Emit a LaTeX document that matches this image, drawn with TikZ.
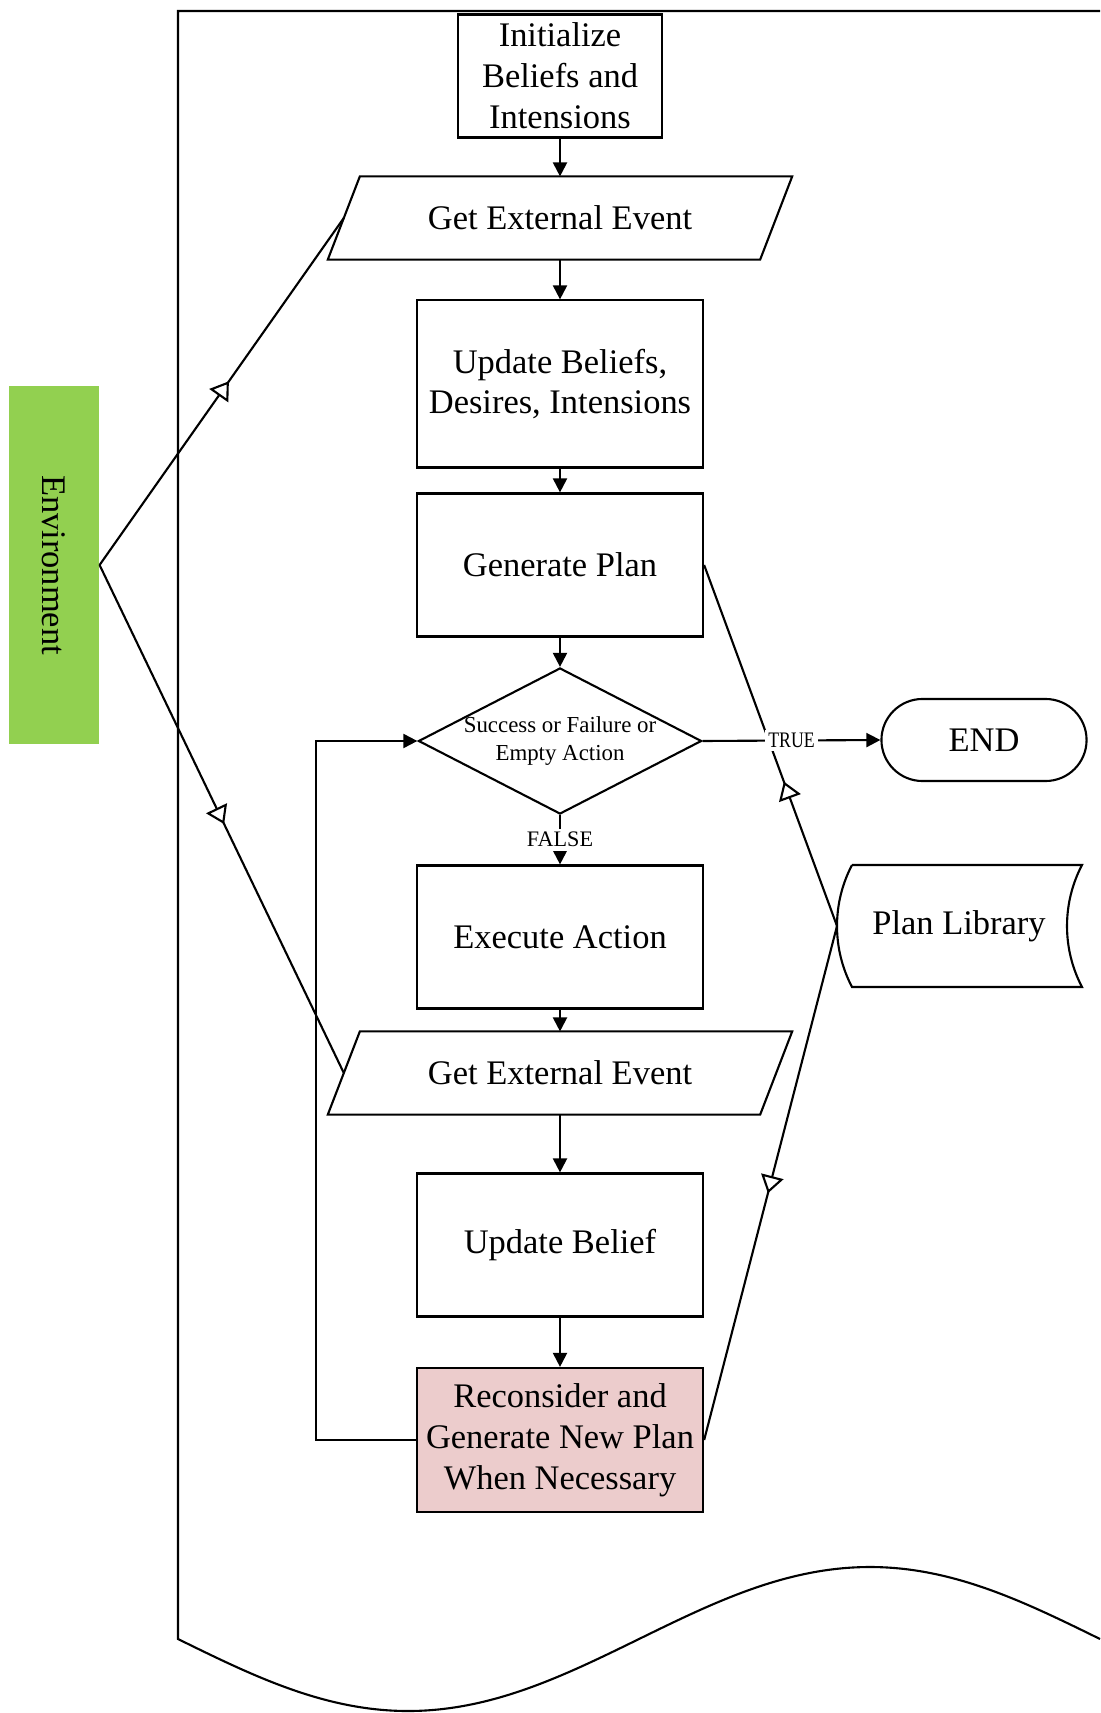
\documentclass[tikz,border=0pt]{standalone}
\usepackage{fontspec}
\setmainfont{Liberation Serif}
\usetikzlibrary{shapes.geometric,arrows.meta,decorations.markings}
\definecolor{envgreen}{RGB}{146,208,80}
\definecolor{recpink}{RGB}{236,204,204}
\begin{document}
\begin{tikzpicture}[x=0.01cm, y=-0.01cm, line width=0.6pt,
		font=\fontsize{9.8}{11.6}\selectfont,
		proc/.style={rectangle, draw, align=center, minimum width=2.86cm, inner sep=2pt},
		io/.style={rectangle, minimum width=4.30cm, minimum height=0.81cm, inner sep=1pt},
		decide/.style={diamond, draw, minimum width=2.83cm, minimum height=1.46cm, inner sep=0pt},
		arr/.style={-{Triangle[length=4pt,width=4pt]}},
		lbl/.style={fill=white, inner sep=1pt, font=\fontsize{6.3}{7}\selectfont},
		feed/.style={postaction={decorate}, decoration={markings,
				mark=at position #1 with {\arrow{Triangle[fill=white,length=5pt,width=6.5pt]}}}}]
		\useasboundingbox (0,0) rectangle (1100,1713);
		% outer document frame
		\draw (1100,11) -- (178,11) -- (178,1639) sin (408,1711) cos (639,1639) sin (870,1567) cos (1100,1639);
		
		% main column
		\node[proc, minimum width=2.04cm, minimum height=1.23cm] (init) at (560,76) {Initialize\\Beliefs and\\Intensions};
		\node[io] (get1) at (560,218) {Get External Event};
		\node[proc, minimum height=1.67cm] (upd) at (560,384) {Update Beliefs,\\Desires, Intensions};
		\node[proc, minimum height=1.43cm] (gen) at (560,565) {Generate Plan};
		\node[decide, label={[align=center, font=\fontsize{6.5}{8}\selectfont]center:{Success or Failure or\\Empty Action}}] (chk) at (560,741) {};
		\node[proc, minimum height=1.43cm] (exe) at (560,937) {Execute Action};
		\node[io] (get2) at (560,1073) {Get External Event};
		\node[proc, minimum height=1.43cm] (belief) at (560,1245) {Update Belief};
		\node[proc, minimum height=1.44cm, fill=recpink] (recon) at (560,1440) {Reconsider and\\Generate New Plan\\When Necessary};
		% slanted input boxes
		\foreach \n in {get1,get2}
			\draw ([xshift=0.16cm]\n.north west) -- ([xshift=0.16cm]\n.north east)
				-- ([xshift=-0.16cm]\n.south east) -- ([xshift=-0.16cm]\n.south west) -- cycle;
		
		% side nodes
		\node[draw, rounded corners=0.41cm, minimum width=2.05cm, minimum height=0.82cm] (finish) at (984,740) {END};
		\node[fill=envgreen, minimum width=0.89cm, minimum height=3.57cm] (env) at (54,565) {\rotatebox{-90}{Environment}};
		\node (lib) at (959,926) {Plan Library};
		\coordinate (libw) at (837,926);
		\draw (852,865) -- (1082,865) .. controls (1062,903) and (1062,949) .. (1082,987)
			-- (852,987) .. controls (832,949) and (832,903) .. (852,865);
		
		% flows
		\draw[feed=0.53] (env.east) -- (get1.west);
		\draw[feed=0.51] (env.east) -- (get2.west);
		\draw[feed=0.40] (libw) -- (gen.east);
		\draw[feed=0.52] (libw) -- (recon.east);
		
		\foreach \a/\b in {init/get1, get1/upd, upd/gen, gen/chk, exe/get2, get2/belief, belief/recon}
			\draw[arr] (\a.south) -- (\b.north);
		\draw[arr] (chk.south) -- node[lbl] {FALSE} (exe.north);
		\draw[arr] (chk.east) -- node[lbl] {\scalebox{0.8}[1]{TRUE}} (finish.west);
		\draw[arr] (recon.west) -- ++(-100,0) |- (chk.west);
\end{tikzpicture}
\end{document}
